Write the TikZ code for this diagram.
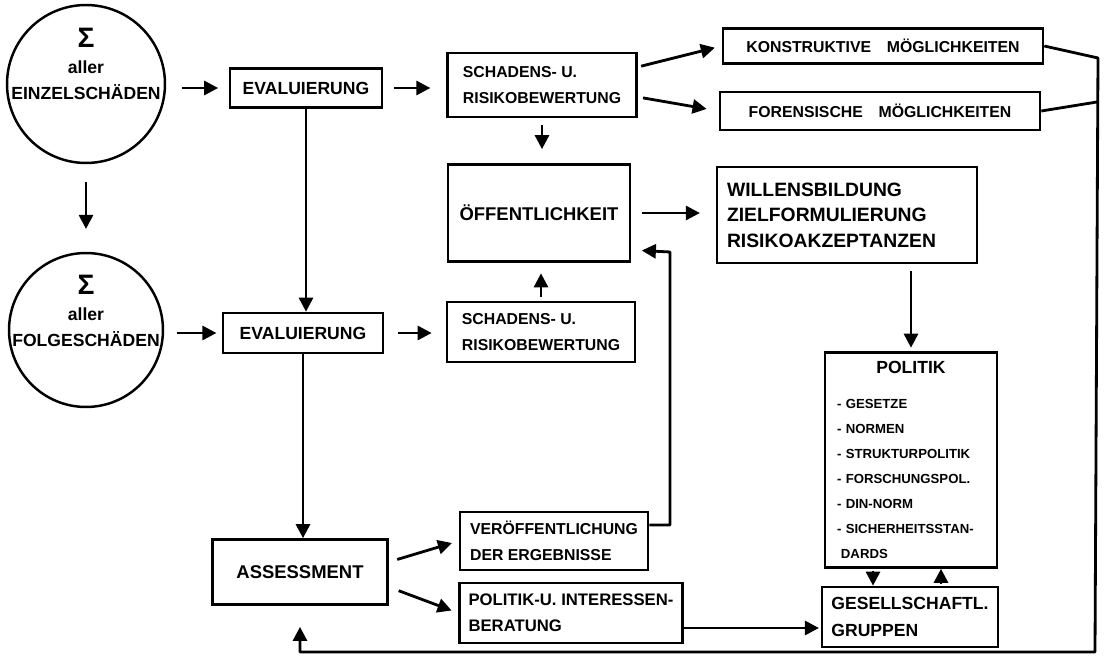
\documentclass[tikz,border=0pt]{standalone}
\usepackage{fontspec}
\setmainfont{Liberation Sans}
\usetikzlibrary{arrows.meta}

\begin{document}
\begin{tikzpicture}[x=0.02cm, y=-0.02cm,
  box/.style={draw, line width=1.5pt, inner sep=0pt, align=left, font=\fontsize{10}{15}\selectfont\bfseries},
  sbox/.style={box, font=\fontsize{9}{14.5}\selectfont\bfseries},
  circ/.style={draw, circle, line width=1.4pt, inner sep=0pt},
  ctxt/.style={align=center, font=\fontsize{10}{15}\selectfont\bfseries},
  arr/.style={line width=1.6pt, line join=round, -{Triangle[length=8pt,width=8pt]}},
  con/.style={line width=1.6pt, line join=round}]
\useasboundingbox (0,0) rectangle (1110,662);

% circles
\node[circ, minimum size=3.16cm] (c1) at (86,84) {};
\node[ctxt] (c1t) at (86,64) {{\fontsize{16}{16}\selectfont Σ}\\aller\\EINZELSCHÄDEN};
\node[circ, minimum size=3.08cm] (c2) at (86,330) {};
\node[ctxt] (c2t) at (86,311) {{\fontsize{16}{16}\selectfont Σ}\\aller\\FOLGESCHÄDEN};

% left column
\node[box, minimum width=3.04cm, minimum height=0.78cm] (e1) at (306,88) {EVALUIERUNG};
\node[box, minimum width=3.2cm, minimum height=0.8cm] (e2) at (303,333) {EVALUIERUNG};
\node[box, font=\fontsize{10.5}{15}\selectfont\bfseries, minimum width=3.5cm, minimum height=1.3cm] (ass) at (300,572) {ASSESSMENT};

% middle column
\node[sbox, minimum width=3.78cm, minimum height=1.28cm] (sr1) at (542,85) {SCHADENS- U.\\RISIKOBEWERTUNG};
\node[box, font=\fontsize{10.5}{15}\selectfont\bfseries, minimum width=3.64cm, minimum height=1.94cm] (oeff) at (539,213) {ÖFFENTLICHKEIT};
\node[sbox, minimum width=3.76cm, minimum height=1.2cm] (sr2) at (541,332) {SCHADENS- U.\\RISIKOBEWERTUNG};
\node[sbox, minimum width=3.76cm, minimum height=1.16cm] (ver) at (554,541) {VERÖFFENTLICHUNG\\DER ERGEBNISSE};
\node[box, font=\fontsize{9.5}{15}\selectfont\bfseries, minimum width=4.46cm, minimum height=1.2cm] (pb) at (571,613) {POLITIK-U. INTERESSEN-\\BERATUNG};

% right column
\node[sbox, minimum width=6.4cm, minimum height=0.7cm] (kon) at (883,46) {KONSTRUKTIVE\quad MÖGLICHKEITEN};
\node[sbox, minimum width=6.4cm, minimum height=0.76cm] (for) at (880,111) {FORENSISCHE\quad MÖGLICHKEITEN};
\node[box, font=\fontsize{11}{14.5}\selectfont\bfseries, text width=4.8cm, inner xsep=0.2cm, minimum height=1.92cm] (wil) at (847,215) {WILLENSBILDUNG\\ZIELFORMULIERUNG\\RISIKOAKZEPTANZEN};
\node[box, font=\fontsize{7.5}{14.2}\selectfont\bfseries, text width=2.96cm, inner xsep=0.24cm, minimum height=4.3cm] (pol) at (911,460)
  {\makebox[2.96cm]{\fontsize{10}{14}\selectfont POLITIK}\\[5.5pt]
   - GESETZE\\- NORMEN\\- STRUKTURPOLITIK\\- FORSCHUNGSPOL.\\- DIN-NORM\\- SICHERHEITSSTAN-\\\hspace*{0.3em}DARDS};
\node[box, minimum width=3.52cm, minimum height=1.2cm] (ges) at (910,617) {GESELLSCHAFTL.\\GRUPPEN};

% arrows
\draw[arr, shorten <=10pt, shorten >=13pt] (c1) -- (c2);
\draw[arr, shorten <=9pt, shorten >=6pt] (c1.east |- e1.west) -- (e1.west);
\draw[arr, shorten <=6pt, shorten >=9pt] (e1.east) -- (e1.east -| sr1.west);
\draw[arr, shorten <=2pt, shorten >=4pt] ([yshift=0.36cm]sr1.east) -- (kon.west);
\draw[arr, shorten <=3pt, shorten >=7pt] ([yshift=-0.24cm]sr1.east) -- (for.west);
\draw[arr, shorten <=4pt, shorten >=8pt] (sr1.south) -- (sr1.south |- oeff.north);
\draw[arr, shorten <=6pt, shorten >=9pt] (oeff.east) -- (oeff.east -| wil.west);
\draw[arr, shorten <=4pt, shorten >=2pt] (wil.south -| pol.north) -- (pol.north);
\draw[arr, shorten <=1pt] ([xshift=-0.76cm]pol.south) -- ([xshift=-0.76cm]pol.south |- ges.north);
\draw[arr, shorten <=1pt] ([xshift=0.6cm]pol.south |- ges.north) -- ([xshift=0.6cm]pol.south);
\draw[arr] (e1.south) -- (e1.south |- e2.north);
\draw[arr, shorten <=7pt, shorten >=3pt] (c2.east |- e2.west) -- (e2.west);
\draw[arr, shorten <=8pt, shorten >=8pt] (e2.east) -- (e2.east -| sr2.west);
\draw[arr, shorten <=2pt, shorten >=6pt] (sr2.north) -- (sr2.north |- oeff.south);
\draw[arr] (e2.south) -- (e2.south |- ass.north);
\draw[arr, shorten <=5pt, shorten >=4pt] ([yshift=0.2cm]ass.east) -- (ver.west);
\draw[arr, shorten <=6pt, shorten >=4pt] ([yshift=-0.3cm]ass.east) -- (pb.west);
\coordinate (vk) at (670,252);
\draw[arr, shorten >=6pt] ([yshift=0.32cm]ver.east) -| (vk) -- ([yshift=-0.74cm]oeff.east);
\draw[arr, shorten >=1pt] ([yshift=-0.3cm]pb.east) -- ([yshift=-0.3cm]pb.east -| ges.west);

% feedback loop
\coordinate (rt) at (1098,58);
\coordinate (rm) at (1097,102);
\coordinate (rb) at (1095,652);
\draw[arr, shorten >=12pt] (kon.east) -- (rt) -- (rb) -| (ass.south);
\draw[con] (for.east) -- (rm);
%\draw[con] (rt) -- (rm);
\end{tikzpicture}
\end{document}
